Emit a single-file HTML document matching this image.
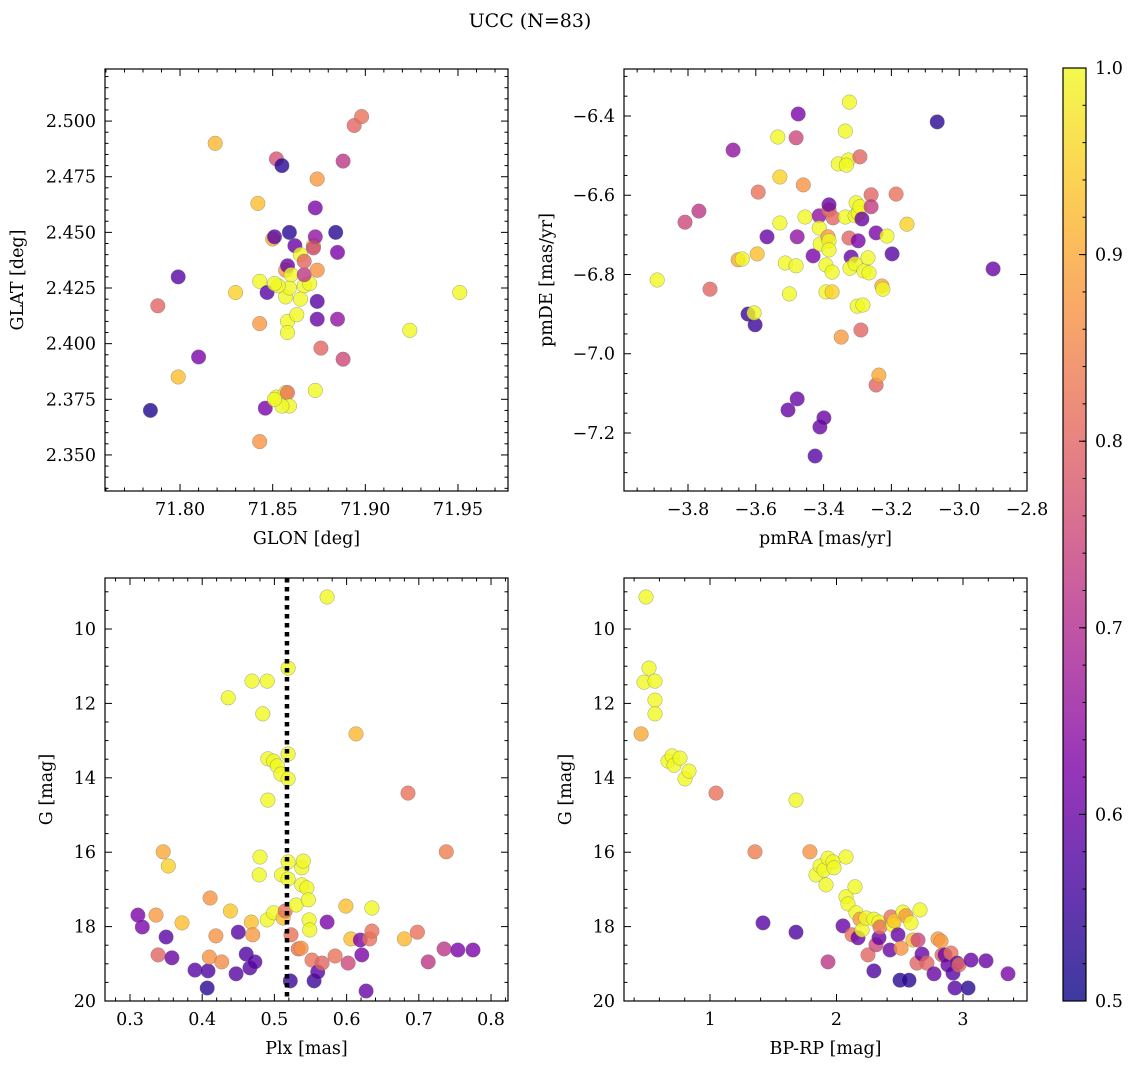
<!DOCTYPE html>
<html><head><meta charset="utf-8"><style>
html,body{margin:0;padding:0;background:#fff;}
svg{display:block;font-family:"DejaVu Serif","Liberation Serif",serif;}
</style></head><body>
<svg id="fig" width="1136" height="1068" viewBox="0 0 1136 1068" xmlns="http://www.w3.org/2000/svg">
<text x="530" y="27" font-size="19" text-anchor="middle">UCC (N=83)</text>
</svg>
<script>
// Panel 1: GLON / GLAT
const p1Glon=[71.784,71.799,71.788,71.810,71.799,71.819,71.830,71.842,71.843,71.843,71.843,71.846,71.847,71.850,71.851,71.852,71.855,71.859,71.862,71.865,71.857,71.859,71.857,71.853,71.858,71.860,71.858,71.858,71.852,71.857,71.858,71.859,71.855,71.851,71.867,71.870,71.867,71.867,71.872,71.874,71.873,71.872,71.873,71.874,71.874,71.874,71.876,71.873,71.884,71.885,71.885,71.888,71.888,71.894,71.898,71.924,71.951,71.863,71.865,71.851];
const p1Glat=[2.370,2.430,2.417,2.394,2.385,2.490,2.423,2.463,2.409,2.356,2.428,2.371,2.423,2.447,2.448,2.483,2.480,2.450,2.444,2.440,2.421,2.425,2.433,2.426,2.435,2.431,2.410,2.405,2.376,2.378,2.378,2.372,2.372,2.375,2.426,2.427,2.431,2.437,2.444,2.433,2.448,2.443,2.461,2.474,2.419,2.411,2.398,2.379,2.450,2.441,2.411,2.482,2.393,2.498,2.502,2.406,2.423,2.413,2.420,2.427];
const p1Prob=[0.52,0.58,0.8,0.62,0.93,0.92,0.95,0.93,0.88,0.87,0.97,0.62,0.58,0.9,0.58,0.77,0.53,0.53,0.6,0.98,0.99,0.99,0.88,0.97,0.6,0.98,0.97,0.97,0.97,0.97,0.82,0.97,0.98,0.97,0.98,0.98,0.72,0.8,0.95,0.87,0.65,0.75,0.62,0.88,0.58,0.6,0.8,0.97,0.53,0.62,0.65,0.72,0.75,0.8,0.82,0.98,0.98,0.97,0.97,0.97];
// Panel 2: pmRA / pmDE
const p2Pmra=[-3.891,-3.809,-3.768,-3.735,-3.667,-3.652,-3.640,-3.623,-3.602,-3.605,-3.596,-3.593,-3.567,-3.535,-3.529,-3.529,-3.513,-3.501,-3.481,-3.475,-3.481,-3.460,-3.478,-3.455,-3.505,-3.478,-3.431,-3.413,-3.413,-3.410,-3.411,-3.425,-3.399,-3.393,-3.384,-3.387,-3.384,-3.375,-3.393,-3.375,-3.384,-3.384,-3.372,-3.357,-3.348,-3.336,-3.327,-3.324,-3.336,-3.333,-3.325,-3.319,-3.322,-3.307,-3.307,-3.304,-3.293,-3.298,-3.293,-3.298,-3.301,-3.284,-3.290,-3.287,-3.281,-3.269,-3.266,-3.260,-3.260,-3.245,-3.245,-3.237,-3.228,-3.225,-3.213,-3.198,-3.186,-3.154,-3.065,-2.900];
const p2Pmde=[-6.814,-6.668,-6.640,-6.837,-6.486,-6.763,-6.761,-6.900,-6.927,-6.897,-6.748,-6.592,-6.705,-6.453,-6.554,-6.670,-6.771,-6.849,-6.778,-6.395,-6.455,-6.574,-6.705,-6.655,-7.142,-7.114,-6.753,-6.652,-6.683,-6.723,-7.185,-7.258,-7.162,-6.776,-6.637,-6.705,-6.715,-6.794,-6.844,-6.844,-6.738,-6.624,-6.657,-6.521,-6.958,-6.655,-6.511,-6.365,-6.438,-6.524,-6.708,-6.756,-6.784,-6.773,-6.652,-6.619,-6.503,-6.645,-6.629,-6.715,-6.880,-6.877,-6.940,-6.660,-6.791,-6.758,-6.796,-6.599,-6.629,-6.695,-7.079,-7.054,-6.829,-6.837,-6.703,-6.748,-6.597,-6.673,-6.415,-6.786];
const p2Prob=[0.97,0.75,0.72,0.8,0.65,0.9,0.97,0.55,0.55,0.97,0.93,0.82,0.6,0.97,0.95,0.97,0.97,0.97,0.97,0.62,0.75,0.87,0.65,0.97,0.6,0.6,0.62,0.65,0.97,0.97,0.6,0.58,0.6,0.97,0.82,0.88,0.97,0.97,0.97,0.95,0.97,0.6,0.8,0.97,0.88,0.97,0.97,0.98,0.97,0.97,0.8,0.6,0.97,0.97,0.97,0.97,0.8,0.97,0.97,0.62,0.97,0.97,0.8,0.6,0.97,0.97,0.97,0.8,0.73,0.62,0.8,0.9,0.9,0.97,0.97,0.58,0.82,0.95,0.53,0.6];
// Panel 3: Plx / G
const p3Plx=[0.311,0.317,0.336,0.339,0.346,0.353,0.350,0.358,0.372,0.390,0.407,0.408,0.410,0.411,0.419,0.427,0.436,0.439,0.447,0.450,0.461,0.468,0.469,0.466,0.470,0.473,0.480,0.479,0.484,0.490,0.490,0.491,0.491,0.499,0.499,0.504,0.509,0.512,0.515,0.510,0.519,0.519,0.519,0.519,0.519,0.522,0.523,0.530,0.533,0.537,0.538,0.538,0.540,0.545,0.547,0.548,0.549,0.552,0.555,0.560,0.566,0.573,0.573,0.584,0.599,0.602,0.606,0.613,0.619,0.621,0.627,0.632,0.635,0.635,0.680,0.685,0.698,0.713,0.735,0.738,0.754,0.775];
const p3G=[17.69,18.01,17.69,18.76,15.99,16.37,18.28,18.84,17.90,19.17,19.65,19.19,18.82,17.23,18.25,18.95,11.85,17.58,19.27,18.15,18.74,17.88,11.40,19.11,18.22,18.95,16.13,16.61,12.28,11.40,17.82,13.49,14.60,13.55,17.63,13.68,13.90,17.77,17.58,16.61,11.05,13.36,14.03,16.26,16.72,19.46,18.22,17.42,18.60,18.58,16.88,16.42,16.24,16.96,17.28,17.82,18.09,18.90,19.46,19.22,18.98,9.14,17.88,18.79,17.45,18.98,18.33,12.82,18.36,18.76,19.73,18.33,18.12,17.50,18.33,14.41,18.15,18.95,18.60,15.99,18.63,18.63];
const p3Prob=[0.62,0.62,0.88,0.8,0.9,0.95,0.58,0.6,0.93,0.58,0.53,0.57,0.87,0.87,0.87,0.86,0.98,0.94,0.58,0.58,0.57,0.93,0.98,0.58,0.88,0.58,0.98,0.98,0.98,0.98,0.98,0.98,0.98,0.98,0.98,0.98,0.98,0.93,0.82,0.98,0.98,0.98,0.98,0.98,0.98,0.55,0.82,0.98,0.82,0.87,0.98,0.98,0.98,0.98,0.98,0.98,0.98,0.82,0.55,0.58,0.8,0.98,0.62,0.82,0.93,0.75,0.93,0.92,0.62,0.62,0.6,0.82,0.82,0.98,0.92,0.82,0.82,0.72,0.72,0.84,0.62,0.62];
// Panel 4: BP-RP / G
const p4Bprp=[0.494,0.455,0.478,0.518,0.565,0.565,0.565,0.668,0.700,0.715,0.763,0.802,0.834,1.047,1.356,1.419,1.680,1.680,1.790,1.838,1.870,1.901,1.933,1.917,1.933,1.972,1.980,2.051,2.075,2.075,2.091,2.123,2.146,2.154,2.170,2.186,2.202,2.233,2.249,2.296,2.296,2.312,2.336,2.336,2.344,2.423,2.431,2.447,2.455,2.486,2.502,2.510,2.526,2.549,2.573,2.589,2.605,2.636,2.644,2.660,2.676,2.715,2.771,2.802,2.826,2.834,2.858,2.881,2.905,2.921,2.937,2.953,2.968,3.040,3.063,3.182,3.356];
const p4G=[9.14,12.82,11.43,11.05,11.40,11.91,12.28,13.55,13.41,13.66,13.47,14.03,13.82,14.41,15.99,17.90,14.60,18.15,15.99,16.61,16.37,16.48,16.16,16.88,18.95,16.26,16.42,17.98,17.20,16.13,17.39,18.22,16.93,17.63,18.30,17.80,18.09,17.77,18.76,17.80,19.19,18.49,18.30,17.88,18.01,18.63,17.74,17.96,17.85,18.22,19.44,18.58,17.61,17.71,19.44,17.90,18.36,18.98,18.36,17.55,18.74,18.98,19.27,18.33,18.39,18.76,18.76,19.03,18.71,19.25,19.65,18.98,19.03,19.65,18.90,18.92,19.27];
const p4Prob=[0.98,0.9,0.98,0.98,0.98,0.98,0.98,0.98,0.98,0.98,0.98,0.98,0.98,0.82,0.84,0.58,0.98,0.57,0.87,0.98,0.98,0.98,0.98,0.98,0.72,0.98,0.98,0.6,0.98,0.98,0.98,0.82,0.98,0.98,0.6,0.88,0.98,0.98,0.8,0.98,0.57,0.75,0.6,0.98,0.82,0.6,0.82,0.98,0.94,0.6,0.53,0.87,0.98,0.88,0.53,0.98,0.93,0.8,0.75,0.98,0.6,0.8,0.6,0.88,0.88,0.8,0.6,0.6,0.82,0.58,0.58,0.6,0.8,0.53,0.6,0.6,0.62];
const cbTicks=[0.5,0.6,0.7,0.8,0.9,1.0];
const plxLine=0.5174;

const NS='http://www.w3.org/2000/svg';
const fig=document.getElementById('fig');
const FS=17.5;
function mk(tag,attrs,parent){const e=document.createElementNS(NS,tag);for(const k in attrs)e.setAttribute(k,attrs[k]);(parent||fig).appendChild(e);return e;}
const stops=[[0,[13,8,135]],[0.125,[70,3,159]],[0.25,[126,3,168]],[0.375,[170,35,149]],[0.5,[204,71,120]],[0.625,[230,108,92]],[0.75,[248,149,64]],[0.875,[253,196,39]],[1,[240,249,33]]];
function plasma(t){t=Math.max(0,Math.min(1,t));for(let i=1;i<stops.length;i++){if(t<=stops[i][0]){const a=stops[i-1],b=stops[i];const f=(t-a[0])/(b[0]-a[0]);const c=a[1].map((v,j)=>Math.round(v+(b[1][j]-v)*f));return 'rgb('+c.join(',')+')';}}return 'rgb(240,249,33)';}
function fmt(v,d){return (v<0?'\u2212':'')+Math.abs(v).toFixed(d);}
function probColor(p){return plasma(p>=0.965?1:(p-0.5)/0.5);}

function panel(cfg){
  const g=mk('g',{});
  
  
  const {L,T,R,B}=cfg;
  const sx=v=>L+(v-cfg.x0)/(cfg.x1-cfg.x0)*(R-L);
  const sy=v=>cfg.yinv? T+(v-cfg.y0)/(cfg.y1-cfg.y0)*(B-T) : B-(v-cfg.y0)/(cfg.y1-cfg.y0)*(B-T);
  const clip='clip-'+cfg.name;
  const cp=mk('clipPath',{id:clip},g);mk('rect',{x:L,y:T,width:R-L,height:B-T},cp);
  const pts=mk('g',{'clip-path':'url(#'+clip+')'},g);
  
  
  for(let i=0;i<cfg.xs.length;i++){
    const c=mk('circle',{cx:sx(cfg.xs[i]).toFixed(1),cy:sy(cfg.ys[i]).toFixed(1),r:7.3,fill:probColor(cfg.p[i]),'fill-opacity':0.8,stroke:'#777','stroke-width':0.5,'stroke-opacity':0.7},pts);
    
    
  }
  if(cfg.vline!==undefined){
    const l=mk('line',{x1:sx(cfg.vline),x2:sx(cfg.vline),y1:T,y2:B,stroke:'#000','stroke-width':4.5,'stroke-dasharray':'4.5,4.5'},pts);
    
    
  }
  mk('rect',{x:L,y:T,width:R-L,height:B-T,fill:'none',stroke:'#000','stroke-width':1.2},g);
  const lo=Math.min(cfg.x0,cfg.x1),hi=Math.max(cfg.x0,cfg.x1);
  for(let v=Math.ceil(lo/cfg.xmin-1e-6)*cfg.xmin;v<=hi+1e-9;v+=cfg.xmin){
    const x=sx(v);const maj=Math.abs(v/cfg.xmaj-Math.round(v/cfg.xmaj))<1e-4;const len=maj?7:3.5;
    mk('line',{x1:x,x2:x,y1:B,y2:B-len,stroke:'#000','stroke-width':1},g);
    mk('line',{x1:x,x2:x,y1:T,y2:T+len,stroke:'#000','stroke-width':1},g);
    if(maj){const t=mk('text',{x:x,y:B+24,'font-size':FS,'text-anchor':'middle'},g);t.textContent=fmt(Math.round(v/cfg.xmaj)*cfg.xmaj,cfg.xd);
      }
  }
  const ylo=Math.min(cfg.y0,cfg.y1),yhi=Math.max(cfg.y0,cfg.y1);
  for(let v=Math.ceil(ylo/cfg.ymin-1e-6)*cfg.ymin;v<=yhi+1e-9;v+=cfg.ymin){
    const y=sy(v);const maj=Math.abs(v/cfg.ymaj-Math.round(v/cfg.ymaj))<1e-4;const len=maj?7:3.5;
    mk('line',{x1:L,x2:L+len,y1:y,y2:y,stroke:'#000','stroke-width':1},g);
    mk('line',{x1:R,x2:R-len,y1:y,y2:y,stroke:'#000','stroke-width':1},g);
    if(maj){const t=mk('text',{x:L-9,y:y+6,'font-size':FS,'text-anchor':'end'},g);t.textContent=fmt(Math.round(v/cfg.ymaj)*cfg.ymaj,cfg.yd);
      }
  }
  const xl=mk('text',{x:(L+R)/2,y:B+53,'font-size':FS,'text-anchor':'middle'},g);xl.textContent=cfg.xlabel;
  
  const yx=cfg.ylx,yy=(T+B)/2;
  const yl=mk('text',{x:yx,y:yy,'font-size':FS,'text-anchor':'middle',transform:'rotate(-90 '+yx+' '+yy+')'},g);yl.textContent=cfg.ylabel;
  
}

panel({name:'glon-glat-panel',L:105,T:69,R:508,B:491,x0:71.7595,x1:71.977,y0:2.3338,y1:2.5234,xmaj:0.05,xmin:0.01,ymaj:0.025,ymin:0.005,xd:2,yd:3,xs:p1Glon,ys:p1Glat,p:p1Prob,xlabel:'GLON [deg]',ylabel:'GLAT [deg]',ylx:23});
panel({name:'proper-motion-panel',L:624,T:69,R:1027,B:491,x0:-3.9888,x1:-2.8,y0:-7.3464,y1:-6.2814,xmaj:0.2,xmin:0.05,ymaj:0.2,ymin:0.05,xd:1,yd:1,xs:p2Pmra,ys:p2Pmde,p:p2Prob,xlabel:'pmRA [mas/yr]',ylabel:'pmDE [mas/yr]',ylx:552});
panel({name:'parallax-magnitude-panel',L:105,T:578,R:508,B:1001,x0:0.2654,x1:0.8235,y0:8.629,y1:20,yinv:true,xmaj:0.1,xmin:0.02,ymaj:2,ymin:0.5,xd:1,yd:0,xs:p3Plx,ys:p3G,p:p3Prob,vline:plxLine,xlabel:'Plx [mas]',ylabel:'G [mag]',ylx:52});
panel({name:'color-magnitude-panel',L:624,T:578,R:1027,B:1001,x0:0.320,x1:3.506,y0:8.629,y1:20,yinv:true,xmaj:1,xmin:0.2,ymaj:2,ymin:0.5,xd:0,yd:0,xs:p4Bprp,ys:p4G,p:p4Prob,xlabel:'BP-RP [mag]',ylabel:'G [mag]',ylx:571});

// colorbar
(function(){
  const g=mk('g',{});
  
  
  const L=1063,R=1086,T=68,B=1001;
  const defs=mk('defs',{},g);
  const lg=mk('linearGradient',{id:'cbgrad',x1:0,y1:1,x2:0,y2:0},defs);
  for(let i=0;i<=20;i++){mk('stop',{offset:i/20,'stop-color':plasma(i/20)},lg);}
  mk('rect',{x:L,y:T,width:R-L,height:B-T,fill:'url(#cbgrad)','fill-opacity':0.8},g);
  mk('rect',{x:L,y:T,width:R-L,height:B-T,fill:'none',stroke:'#000','stroke-width':1.2},g);
  const sy=v=>B-(v-0.5)/0.5*(B-T);
  for(let v=0.5;v<=1.0001;v+=0.02){mk('line',{x1:R,x2:R-3.5,y1:sy(v),y2:sy(v),stroke:'#000','stroke-width':1},g);}
  cbTicks.forEach(v=>{const y=sy(v);mk('line',{x1:R,x2:R-7,y1:y,y2:y,stroke:'#000','stroke-width':1},g);
    const t=mk('text',{x:R+9,y:y+6,'font-size':FS},g);t.textContent=v.toFixed(1);
    });
})();
</script>
</body></html>
